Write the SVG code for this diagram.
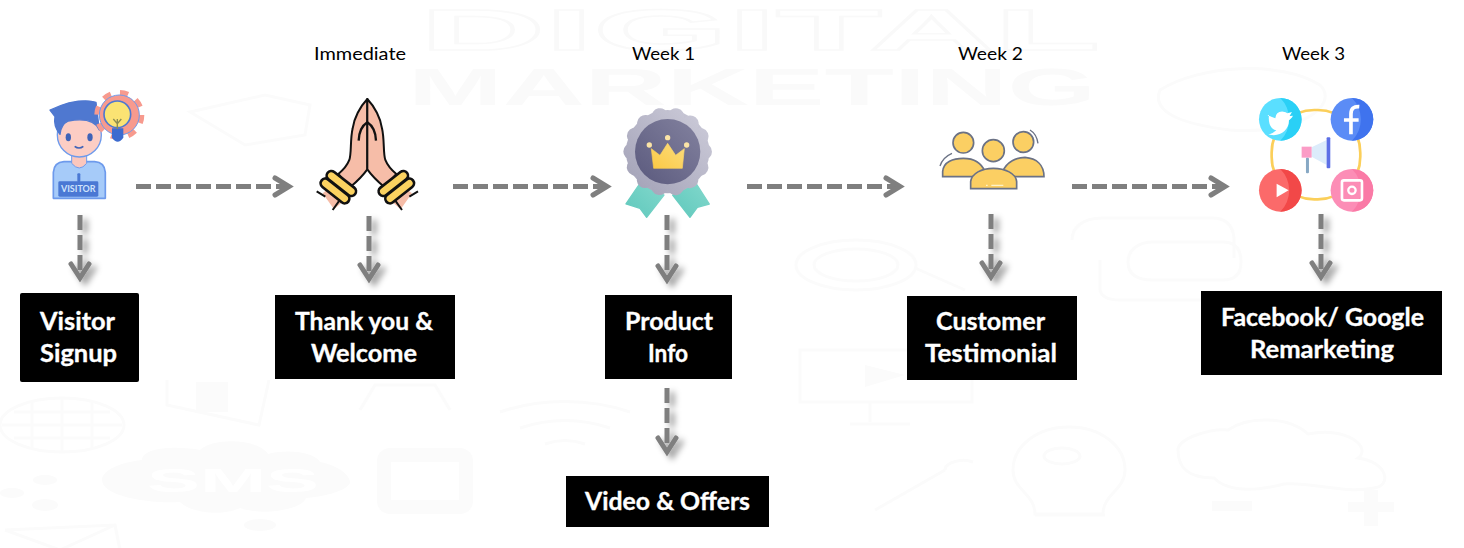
<svg xmlns="http://www.w3.org/2000/svg" width="1464" height="548" viewBox="0 0 1464 548">
<style>
.wm{fill:none;stroke:#fbfbfb;stroke-width:3}
.wf{fill:#fbfbfb}
.wt{font-family:"Liberation Sans",Arial,sans-serif;font-weight:700}
.lab{font-family:Lato,"Noto Sans",sans-serif;font-size:18px;fill:#000}
.box{fill:#000}
.bt{font-family:Lato,"Noto Sans",sans-serif;font-weight:700;font-size:25px;fill:#fff;stroke:#fff;stroke-width:.35}
.conn{fill:none;stroke:#7f7f7f;stroke-width:5}
.head{stroke-linecap:round}
.dash{stroke-dasharray:15 5}
.team{fill:#fbcf63;stroke:#6b7285;stroke-width:5}
</style>
<defs>
<filter id="sh" x="-200%" y="-30%" width="500%" height="170%"><feDropShadow dx="5" dy="4" stdDeviation="3" flood-color="#000" flood-opacity=".4"/></filter>
<linearGradient id="mo" x1="1" y1="0" x2="0" y2="1"><stop offset="0" stop-color="#cbcad8"/><stop offset="1" stop-color="#a4a3b8"/></linearGradient>
<linearGradient id="mi" x1="1" y1="0" x2="0" y2="1"><stop offset="0" stop-color="#83829f"/><stop offset="1" stop-color="#5a597d"/></linearGradient>
<linearGradient id="cr" x1="1" y1="0" x2="0" y2="1"><stop offset="0" stop-color="#fbdc7c"/><stop offset="1" stop-color="#fbc945"/></linearGradient>
<linearGradient id="rb" x1="0" y1="1" x2="1" y2="0"><stop offset="0" stop-color="#5fc8bc"/><stop offset="1" stop-color="#82d8cc"/></linearGradient>
<g id="hand" stroke="#111" stroke-width="6" stroke-linejoin="round">
<path d="M38 310L72 358 100 334 66 288Z" fill="#f6bda8" stroke="none"/>
<path d="M20 304L46 320M68 360L88 332" fill="none"/>
<path d="M172 27C150 50 132 85 128 115 120 150 125 190 118 210 112 225 100 240 85 252L120 292C140 275 160 255 172 238Z" fill="#f6bda8"/>
<path d="M172 97C155 108 147 125 146 152" fill="none" stroke-width="7"/>
<path d="M64 257L124 304M46 280L104 326" fill="none" stroke-width="36" stroke-linecap="round"/>
<path d="M64 257L124 304M46 280L104 326" fill="none" stroke="#fbd260" stroke-width="20" stroke-linecap="round"/>
</g>
</defs>
<rect width="1464" height="548" fill="#fff"/>
<g id="watermark">
<text class="wt" x="420" y="50" font-size="57" textLength="680" lengthAdjust="spacingAndGlyphs" style="fill:none;stroke:#f9f9f9;stroke-width:1.5">DIGITAL</text>
<text class="wt" x="408" y="105" font-size="52" textLength="688" lengthAdjust="spacingAndGlyphs" style="fill:#fafafa">MARKETING</text>
<path class="wf" d="M102 480c0-10 20-18 40-20 0-14 40-14 58-10 16-14 60-10 68 4 24-6 48 0 52 8 20 4 30 14 30 20s-18 14-44 16c-4 12-44 18-66 10-16 8-48 6-60-6-32 2-78-6-78-22z"/>
<text class="wt" x="147" y="492" font-size="34" textLength="172" lengthAdjust="spacingAndGlyphs" style="fill:#fff">SMS</text>
<ellipse class="wm" cx="62" cy="425" rx="62" ry="27"/><path class="wm" d="M2 425h120M62 398v55M32 403v46M92 403v46M14 412h96M14 438h96"/>
<rect class="wm" x="384" y="455" width="82" height="52" rx="6" style="stroke-width:14"/>
<path class="wm" d="M167 380v25l92 20 10-45"/><rect class="wf" x="196" y="382" width="32" height="30"/>
<path class="wm" d="M360 410l15-25h60l15 25"/>
<g class="wf"><ellipse cx="45" cy="480" rx="12" ry="5"/><ellipse cx="12" cy="493" rx="12" ry="5"/><ellipse cx="45" cy="505" rx="13" ry="6"/></g>
<path class="wm" d="M5 530l110-5 5 25M5 530l55 20 55-25"/>
<ellipse class="wf" cx="260" cy="525" rx="16" ry="6"/>
<path class="wm" d="M500 412c40-14 90-14 130 0M520 428c30-10 60-10 90 0M545 444c14-5 26-5 40 0"/>
<ellipse class="wm" cx="856" cy="265" rx="60" ry="25"/><ellipse class="wm" cx="856" cy="265" rx="42" ry="16"/><path class="wm" d="M915 268l50 22"/>
<path class="wm" d="M1072 240c0-12 10-22 30-22h110q20 0 22 20v20M1100 260v30q2 10 20 10h100"/>
<path class="wm" d="M1128 262c0-12 10-20 25-20h70q18 0 18 20 0 18-18 18h-70q-25 0-25-18z"/>
<rect class="wm" x="800" y="350" width="172" height="52"/><path class="wm" d="M870 402v20M850 424h60"/>
<path class="wf" d="M865 365l40 10-40 12z"/>
<path class="wm" d="M1013 470c0-24 24-43 56-43s56 19 56 43c0 20-22 24-22 44h-68c0-20-22-24-22-44zM1035 515h70"/><ellipse class="wm" cx="1062" cy="456" rx="18" ry="8"/>
<path class="wm" d="M875 510l70-40M945 470c0-8 18-12 28-8"/>
<path class="wm" d="M1178 450c0-12 34-22 50-20 20-14 60-14 80 4 40-8 64 14 50 24 30 4 34 28 16 30-30 6-60-6-90-4-40 10-60 4-70-6-30 0-36-14-36-28z"/>
<path class="wf" d="M1212 501h40v10h-40zM1364 490h14v12h16v10h-16v14h-14v-14h-16v-10h16z"/>
<path class="wm" d="M1160 90c40-25 120-30 160-5 20 20-20 50-90 45-40-5-80-15-70-40z"/>
<path class="wm" d="M190 112l75-17 45 10-5 30-60 10z"/>
</g>
<g id="connectors">
<path class="conn dash" d="M136 186.500H288"/><path class="conn head" d="M275 178l14 8.500-14 8.500"/>
<path class="conn dash" d="M453 186.500H606"/><path class="conn head" d="M593 178l14 8.500-14 8.500"/>
<path class="conn dash" d="M747 186.500H899"/><path class="conn head" d="M886 178l14 8.500-14 8.500"/>
<path class="conn dash" d="M1072 186.500H1224"/><path class="conn head" d="M1211 178l14 8.500-14 8.500"/>
<g filter="url(#sh)"><path class="conn dash" d="M80 215V276"/><path class="conn head" d="M71 264l9 14 9-14"/></g>
<g filter="url(#sh)"><path class="conn dash" d="M369 216V277"/><path class="conn head" d="M360 265l9 14 9-14"/></g>
<g filter="url(#sh)"><path class="conn dash" d="M667 215V278"/><path class="conn head" d="M658 266l9 14 9-14"/></g>
<g filter="url(#sh)"><path class="conn dash" d="M991 214V275"/><path class="conn head" d="M982 263l9 14 9-14"/></g>
<g filter="url(#sh)"><path class="conn dash" d="M1321 214V275"/><path class="conn head" d="M1312 263l9 14 9-14"/></g>
<g filter="url(#sh)"><path class="conn dash" d="M667 388V450"/><path class="conn head" d="M658 438l9 14 9-14"/></g>
</g>
<g id="node-visitor">
<g transform="translate(40 85) scale(.3333)">
<path d="M40 340V262q2-30 32-32h92q30 2 32 32v78z" fill="#a6cbf9" stroke="#6d9aec" stroke-width="5" stroke-linejoin="round"/>
<path d="M95 200h45v35q-22 28-45 0z" fill="#fcc7bd" stroke="#6d9aec" stroke-width="3"/>
<circle cx="118" cy="150" r="66" fill="#fccdc4" stroke="#6d9aec" stroke-width="4"/>
<path d="M30 75L62 62C90 50 140 42 168 52L178 135C165 105 130 100 85 108 70 115 62 130 60 148 45 130 42 110 45 95Z" fill="#4f78d0" stroke="#4f78d0" stroke-width="4" stroke-linejoin="round"/>
<ellipse cx="85" cy="157" rx="8" ry="12" fill="#3f63b8"/><ellipse cx="150" cy="157" rx="8" ry="12" fill="#3f63b8"/>
<path d="M104 184q13 10 26 0" fill="none" stroke="#3f63b8" stroke-width="5"/>
<circle cx="238" cy="90" r="65" fill="none" stroke="#f79a8e" stroke-width="20" stroke-dasharray="24 27.050"/>
<circle cx="238" cy="90" r="60" fill="#f79a8e" stroke="#6d9aec" stroke-width="3"/>
<circle cx="232" cy="88" r="40" fill="#fbe373" stroke="#4f78d0" stroke-width="5"/>
<path d="M216 130h34v28q-17 24-34 0z" fill="#3d6bcf"/>
<path d="M232 132v-30m-12 0l12 14 12-14" fill="none" stroke="#8d8d52" stroke-width="4"/>
<rect x="55" y="289" width="120" height="46" rx="4" fill="#4a78d4"/>
<rect x="112" y="265" width="9" height="26" rx="3" fill="#4a78d4"/>
<text x="115" y="322" font-family="Lato,sans-serif" font-weight="700" font-size="28" fill="#cfe2fb" text-anchor="middle" textLength="104" lengthAdjust="spacingAndGlyphs">VISITOR</text>
</g>
</g>
<g id="node-welcome">
<text class="lab" x="314" y="60" textLength="92" lengthAdjust="spacingAndGlyphs">Immediate</text>
<g transform="translate(310 90) scale(.3333)">
<use href="#hand"/>
<use href="#hand" transform="translate(344 0) scale(-1 1)"/>
</g>
</g>
<g id="node-product">
<text class="lab" x="632" y="60" textLength="63" lengthAdjust="spacingAndGlyphs">Week 1</text>
<g transform="translate(440 80) scale(.3333)">
<path d="M600 310L672 345 620 412 600 385 558 372Z" fill="url(#rb)" stroke="url(#rb)" stroke-width="4" stroke-linejoin="round"/>
<path d="M768 310L698 345 750 412 772 382 808 372Z" fill="url(#rb)" stroke="url(#rb)" stroke-width="4" stroke-linejoin="round"/>
<circle cx="683" cy="215" r="125" fill="url(#mo)"/>
<circle cx="683" cy="215" r="108" fill="none" stroke="url(#mo)" stroke-width="50" stroke-dasharray="0.01 48.470" stroke-linecap="round"/>
<circle cx="683" cy="215" r="98" fill="url(#mi)"/>
<path d="M641 265L634 206 660 226 683 190 707 226 733 206 727 265Z" fill="url(#cr)" stroke="url(#cr)" stroke-width="2" stroke-linejoin="round"/>
<g fill="#fbe4a6"><circle cx="628" cy="195" r="8"/><circle cx="683" cy="173" r="8"/><circle cx="740" cy="195" r="8"/></g>
</g>
</g>
<g id="node-testimonial">
<text class="lab" x="958" y="60" textLength="65" lengthAdjust="spacingAndGlyphs">Week 2</text>
<g transform="translate(920 80) scale(.3333)">
<circle class="team" cx="130" cy="188" r="31"/><circle class="team" cx="310" cy="186" r="31"/>
<path class="team" d="M68 290V275C70 245 100 235 130 235 165 235 185 250 195 275L190 290Z"/>
<path class="team" d="M248 275C260 245 290 232 315 232 350 235 372 255 372 290H250Z"/>
<circle class="team" cx="220" cy="212" r="33"/>
<path class="team" d="M152 326V305C155 280 185 265 220 265 255 265 288 280 290 305V326Z"/>
<path d="M198 316h5M214 316h36" stroke="#fff3c8" stroke-width="4" fill="none"/>
<path d="M60 258Q68 232 96 220M330 150Q350 162 354 190" fill="none" stroke="#6b7285" stroke-width="4"/>
</g>
</g>
<g id="node-remarketing">
<text class="lab" x="1282" y="60" textLength="63" lengthAdjust="spacingAndGlyphs">Week 3</text>
<g transform="translate(920 80) scale(.3333)">
<rect x="1055" y="90" width="266" height="268" rx="128" fill="none" stroke="#fbcf5a" stroke-width="8"/>
<circle cx="1081" cy="118" r="64" fill="#5adfff"/><path d="M1081 54a64 64 0 0 1 0 128 90 90 0 0 0 0-128z" fill="#2ad0f6"/>
<circle cx="1296" cy="118" r="64" fill="#5b8cf6"/><path d="M1296 54a64 64 0 0 1 0 128 90 90 0 0 0 0-128z" fill="#3f73ee"/>
<circle cx="1081" cy="331" r="64" fill="#fb6a6a"/><path d="M1081 267a64 64 0 0 1 0 128 90 90 0 0 0 0-128z" fill="#f24848"/>
<circle cx="1296" cy="331" r="64" fill="#fc8db6"/><path d="M1296 267a64 64 0 0 1 0 128 90 90 0 0 0 0-128z" fill="#fa7aa6"/>
<path d="M1042 105q12 6 24 10 2-22 24-20 8 0 12 5l14-4-7 12 10-1c-4 8-8 10-12 14 0 32-30 52-62 42q12-1 24-12-26-6-22-46z" fill="#fff"/>
<path d="M1293 163V102Q1293 78 1318 80M1272 120H1316" fill="none" stroke="#fff" stroke-width="11"/>
<path d="M1070 311l36 20-36 21z" fill="#fff"/>
<rect x="1266" y="301" width="60" height="60" rx="6" fill="none" stroke="#fff" stroke-width="8"/><circle cx="1296" cy="331" r="11" fill="none" stroke="#fff" stroke-width="7"/>
<path d="M1175 202L1220 180V255L1175 230Z" fill="#dcecfb"/>
<rect x="1145" y="200" width="30" height="33" fill="#fb9cc6"/>
<rect x="1158" y="233" width="9" height="47" rx="3" fill="#87a8c4"/>
<rect x="1220" y="172" width="11" height="93" rx="3" fill="#5c6fe6"/>
</g>
</g>
<g id="box-visitor"><rect class="box" x="20" y="293" width="119" height="89" rx="2"/><text class="bt" x="40" y="330" textLength="75" lengthAdjust="spacingAndGlyphs">Visitor</text><text class="bt" x="40" y="362" textLength="77" lengthAdjust="spacingAndGlyphs">Signup</text></g>
<g id="box-thanks"><rect class="box" x="275" y="295" width="180" height="84"/><text class="bt" x="295" y="330" textLength="138" lengthAdjust="spacingAndGlyphs">Thank you &amp;</text><text class="bt" x="311" y="362" textLength="106" lengthAdjust="spacingAndGlyphs">Welcome</text></g>
<g id="box-product"><rect class="box" x="605" y="295" width="127" height="84"/><text class="bt" x="625" y="330" textLength="88" lengthAdjust="spacingAndGlyphs">Product</text><text class="bt" x="648" y="362" textLength="40" lengthAdjust="spacingAndGlyphs">Info</text></g>
<g id="box-customer"><rect class="box" x="907" y="296" width="170" height="84"/><text class="bt" x="936" y="330" textLength="109" lengthAdjust="spacingAndGlyphs">Customer</text><text class="bt" x="925" y="362" textLength="132" lengthAdjust="spacingAndGlyphs">Testimonial</text></g>
<g id="box-facebook"><rect class="box" x="1201" y="291" width="241" height="84"/><text class="bt" x="1221" y="326" textLength="203" lengthAdjust="spacingAndGlyphs">Facebook/ Google</text><text class="bt" x="1250" y="358" textLength="144" lengthAdjust="spacingAndGlyphs">Remarketing</text></g>
<g id="box-video"><rect class="box" x="566" y="476" width="203" height="51"/><text class="bt" x="585" y="510" textLength="165" lengthAdjust="spacingAndGlyphs">Video &amp; Offers</text></g>
</svg>
